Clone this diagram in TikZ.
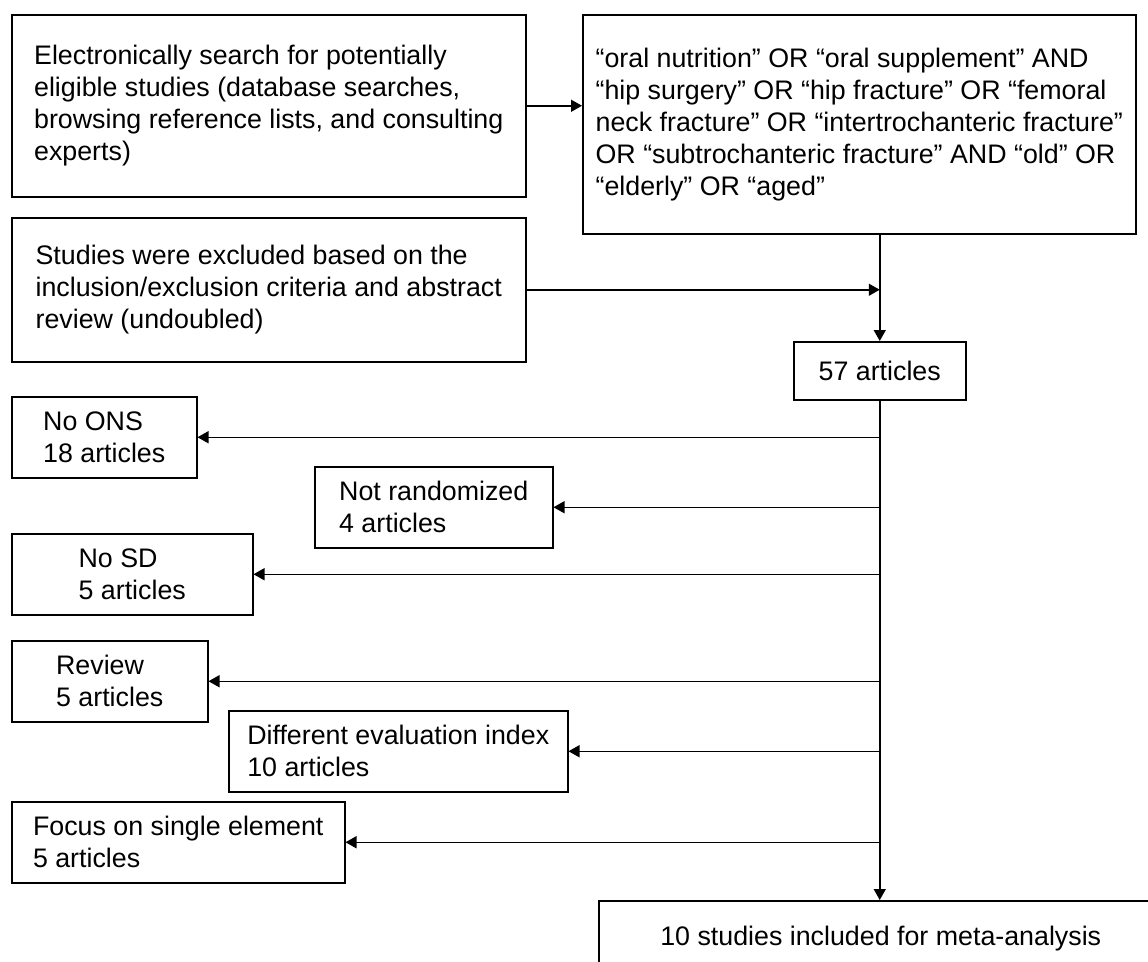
\documentclass[tikz,border=0pt]{standalone}
\usepackage{fontspec}
\setmainfont{Liberation Sans}
\usetikzlibrary{arrows.meta}

\tikzset{
	box/.style={draw, line width=1.5pt, align=left, anchor=north west, inner sep=0pt,
		font=\fontsize{26.8}{32}\selectfont},
	flow/.style={line width=1.5pt, -{Triangle[length=11pt,width=12pt]}},
}

\begin{document}
\begin{tikzpicture}[x=1pt,y=-1pt]
	\useasboundingbox (0,0) rectangle (1148,961);
	\clip (0,0) rectangle (1148,961);

	% search
	\node (search) at (11,14) [box, minimum width=514, minimum height=182] {Electronically search for potentially\\eligible studies (database searches,\\browsing reference lists, and consulting\\experts)};
	\node (query) at (582,14) [box, minimum width=553, minimum height=219] {“oral nutrition” OR “oral supplement” AND\\“hip surgery” OR “hip fracture” OR “femoral\\neck fracture” OR “intertrochanteric fracture”\\OR “subtrochanteric fracture” AND “old” OR\\“elderly” OR “aged”};
	\node (excl) at (11,217) [box, minimum width=514, minimum height=144] {Studies were excluded based on the\\inclusion/exclusion criteria and abstract\\review (undoubled)};
	\node (count) at (793,341) [box, minimum width=172, minimum height=58] {57 articles};

	% excluded articles
	\node (noons) at (11,396) [box, minimum width=185, minimum height=81] {No ONS\\18 articles};
	\node (notrand) at (314,466) [box, minimum width=238, minimum height=81] {Not randomized\\4 articles};
	\node (nosd) at (11,533) [box, minimum width=241, minimum height=81] {No SD\\5 articles};
	\node (review) at (11,640) [box, minimum width=196, minimum height=81] {Review\\5 articles};
	\node (diffeval) at (228,710) [box, minimum width=339, minimum height=81] {Different evaluation index\\10 articles};
	\node (focus) at (11,801) [box, minimum width=333, minimum height=81] {Focus on single element\\5 articles};

	% result
	\node (final) at (598,900) [box, align=center, minimum width=564, minimum height=76] {10 studies included for meta-analysis};

	% main flow
	\draw[flow] (search.east) -- (search.east -| query.west);
	\draw[flow] (query.south -| count) -- (count.north);
	\draw[flow] (excl.east) -- (excl.east -| count);
	\draw[flow] (count.south) -- (count.south |- final.north);

	% exclusions
	\draw[flow] (noons.east -| count) -- (noons.east);
	\draw[flow] (notrand.east -| count) -- (notrand.east);
	\draw[flow] (nosd.east -| count) -- (nosd.east);
	\draw[flow] (review.east -| count) -- (review.east);
	\draw[flow] (diffeval.east -| count) -- (diffeval.east);
	\draw[flow] (focus.east -| count) -- (focus.east);

\end{tikzpicture}
\end{document}
